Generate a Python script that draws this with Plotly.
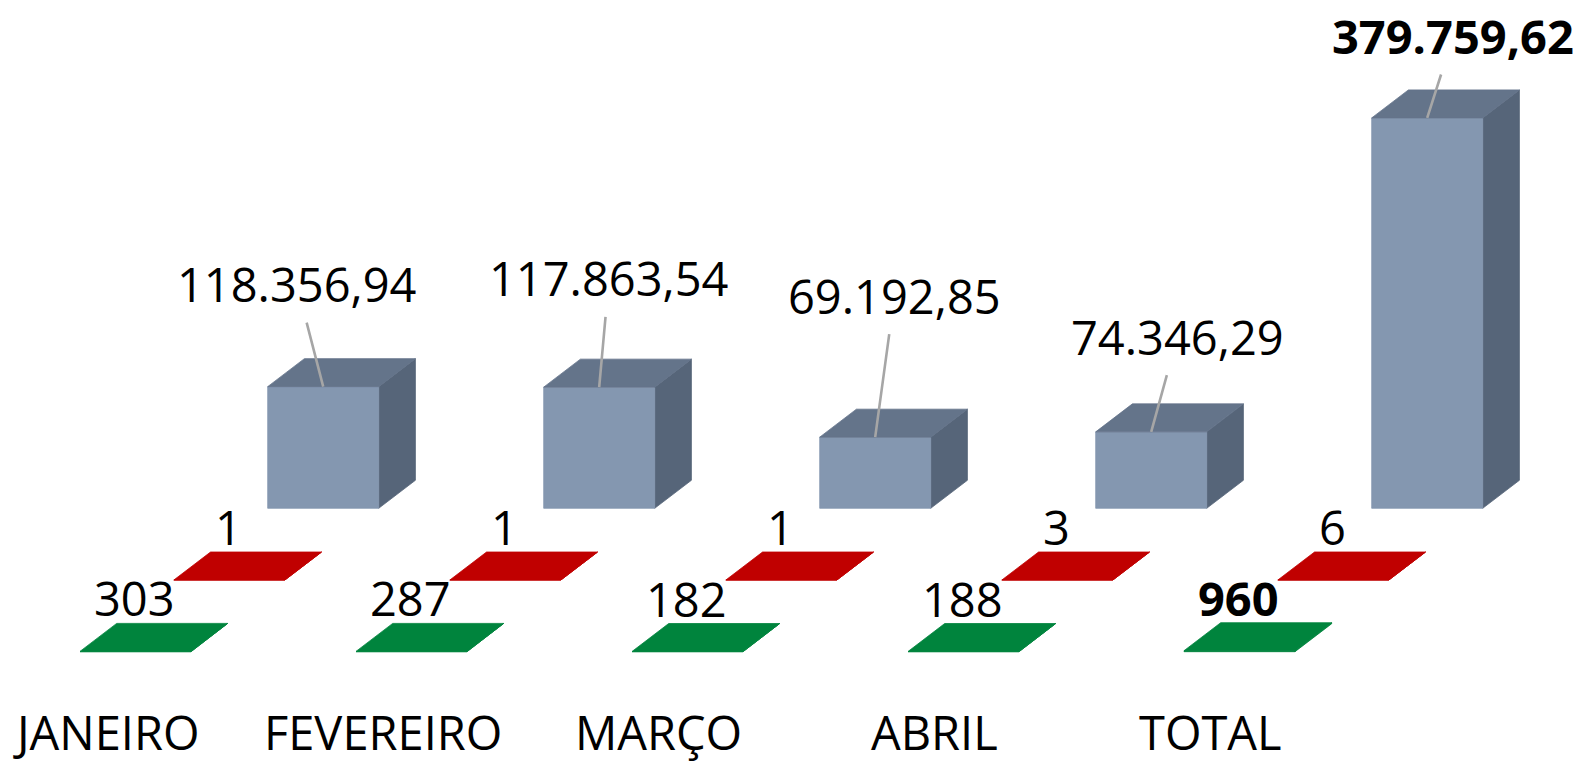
import plotly.graph_objects as go

# ---------------- data ----------------
categories = ["JANEIRO", "FEVEREIRO", "MARÇO", "ABRIL", "TOTAL"]
quantidades = [303, 287, 182, 188, 960]            # green series (front row)
ocorrencias = [1, 1, 1, 3, 6]                       # red series (middle row)
valores = [118356.94, 117863.54, 69192.85, 74346.29, 379759.62]  # blue series (back row)
bold_flags = [False, False, False, False, True]     # TOTAL column labels are bold


def fmt_br(v, decimals):
    s = f"{v:,.{decimals}f}"
    return s.replace(",", "X").replace(".", ",").replace("X", ".")


# ---------------- layout / style constants ----------------
W, H = 1582, 765
CAT_PX = 276.0          # pixels per category step
X0_PX = 323.2           # pixel x of category 0 (back row centre)
Y0_PX = 508.3           # pixel y of the back-row floor
UNITS_PER_PX = 972.8    # value units per pixel

X_RANGE = [(0 - X0_PX) / CAT_PX, (W - X0_PX) / CAT_PX]
Y_RANGE = [-(H - Y0_PX) * UNITS_PER_PX, Y0_PX * UNITS_PER_PX]

BAR_W = 111.0 / CAT_PX
DEPTH_DX = 36.7 / CAT_PX
DEPTH_DY = 28.0 * UNITS_PER_PX
ROW_DX = 93.85 / CAT_PX
ROW_DY = 71.7 * UNITS_PER_PX

FONT = "Open Sans"
FSIZE = 47

series = [
    # values, row (0 = back), front colour, top colour, side colour
    dict(name="Valor", values=valores, row=0,
         front="#8497B0", top="#64748A", side="#566579"),
    dict(name="Ocorrências", values=ocorrencias, row=1,
         front="#C00000", top="#C00000", side="#C00000"),
    dict(name="Quantidade", values=quantidades, row=2,
         front="#00843D", top="#00843D", side="#00843D"),
]

# value-label offsets (px) of the blue labels relative to the bar top
LABEL_AX = [-26.5, 9.8, 19.3, 26.3, 26.2]
LABEL_AY = [-102.5, -108.8, -141.5, -95.2, -81.9]

fig = go.Figure()


def add_face(xs, ys, color, name):
    fig.add_trace(go.Scatter(
        x=xs, y=ys, mode="lines", fill="toself", fillcolor=color,
        line=dict(color=color, width=0.8), hoverinfo="skip",
        showlegend=False, name=name))


annotations = []

for s in series:
    r = s["row"]
    fx, fy, tx, ty, sx, sy = [], [], [], [], [], []
    for i, v in enumerate(s["values"]):
        cx = i - r * ROW_DX
        xl, xr = cx - BAR_W / 2, cx + BAR_W / 2
        yb = -r * ROW_DY
        yt = yb + v
        # front face
        fx += [xl, xr, xr, xl, xl, None]
        fy += [yb, yb, yt, yt, yb, None]
        # top face
        tx += [xl, xr, xr + DEPTH_DX, xl + DEPTH_DX, xl, None]
        ty += [yt, yt, yt + DEPTH_DY, yt + DEPTH_DY, yt, None]
        # side face
        sx += [xr, xr + DEPTH_DX, xr + DEPTH_DX, xr, xr, None]
        sy += [yb, yb + DEPTH_DY, yt + DEPTH_DY, yt, yb, None]

        if r == 0:
            txt = fmt_br(v, 2)
            if bold_flags[i]:
                txt = f"<b>{txt}</b>"
            annotations.append(dict(
                x=cx, y=yt, xref="x", yref="y", text=txt,
                showarrow=True, arrowhead=0, arrowwidth=2.6,
                arrowcolor="#A6A6A6", ax=LABEL_AX[i], ay=LABEL_AY[i],
                borderpad=6, standoff=0,
                font=dict(family=FONT, size=FSIZE, color="#000000")))
        else:
            txt = fmt_br(v, 0)
            if bold_flags[i] and r == 2:
                txt = f"<b>{txt}</b>"
            annotations.append(dict(
                x=cx, y=yt + DEPTH_DY, xref="x", yref="y", text=txt,
                showarrow=False, xanchor="center", yanchor="middle",
                xshift=-1, yshift=25,
                font=dict(family=FONT, size=FSIZE, color="#000000")))
    add_face(sx, sy, s["side"], s["name"])
    add_face(fx, fy, s["front"], s["name"])
    add_face(tx, ty, s["top"], s["name"])

# category labels along the front edge
for i, c in enumerate(categories):
    annotations.append(dict(
        x=i - 2 * ROW_DX, y=0, xref="x", yref="paper",
        text=c, showarrow=False, xanchor="center", yanchor="bottom",
        xshift=-29, borderpad=0,
        font=dict(family=FONT, size=FSIZE, color="#000000")))

fig.update_layout(
    width=W, height=H, autosize=False,
    margin=dict(l=0, r=0, t=0, b=0),
    paper_bgcolor="#FFFFFF", plot_bgcolor="#FFFFFF",
    xaxis=dict(range=X_RANGE, visible=False, fixedrange=True),
    yaxis=dict(range=Y_RANGE, visible=False, fixedrange=True),
    annotations=annotations,
    showlegend=False,
)

fig.write_html("out.html", config={"displayModeBar": False},
               post_script="document.body.style.margin='0';")
